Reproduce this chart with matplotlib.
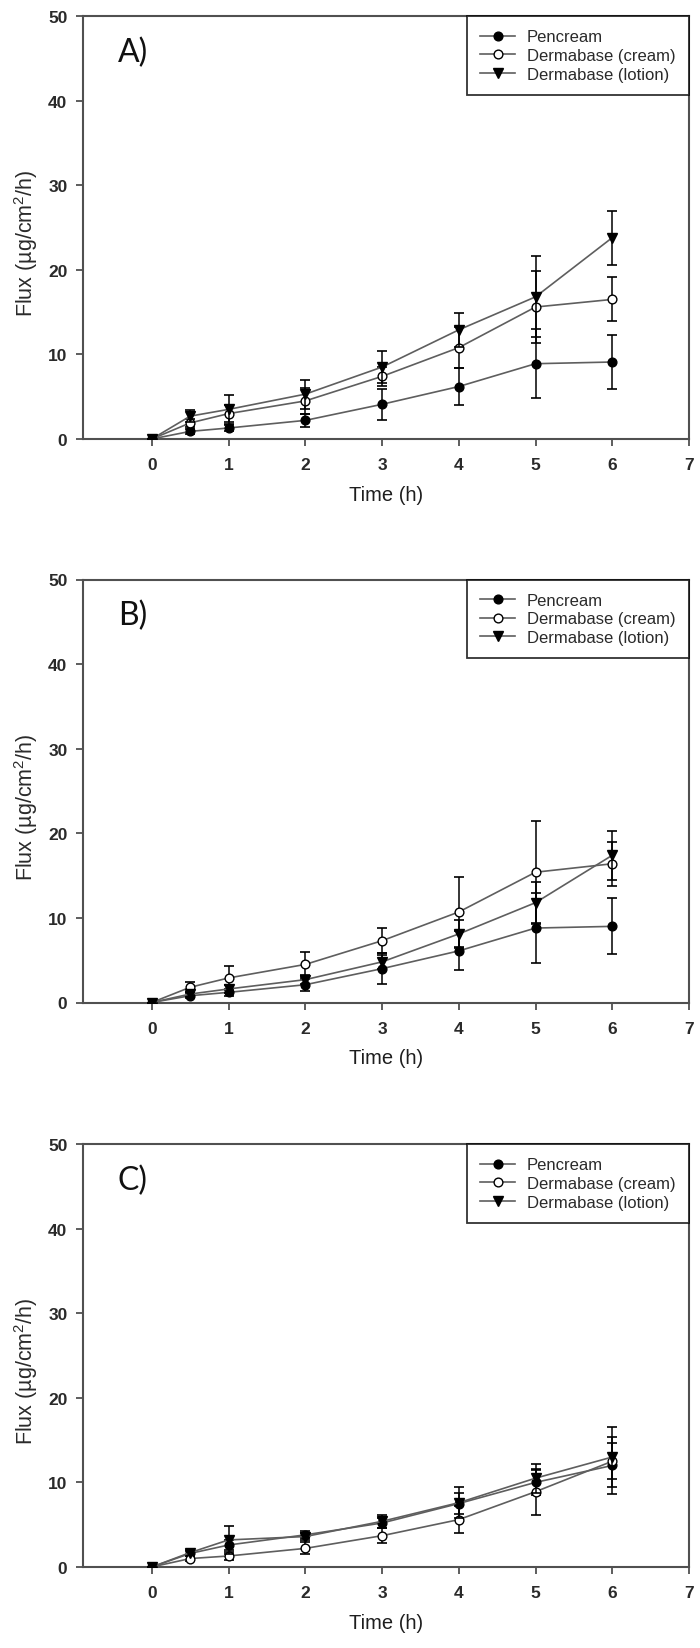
import matplotlib
matplotlib.use("Agg")
import matplotlib.pyplot as plt

# ---------------- data ----------------
time_h = [0, 0.5, 1, 2, 3, 4, 5, 6]
series_names = ["Pencream", "Dermabase (cream)", "Dermabase (lotion)"]
panel_labels = ["A)", "B)", "C)"]

pen_A = [0, 0.9, 1.3, 2.2, 4.1, 6.2, 8.9, 9.1]
pen_A_err = [0, 0.3, 0.4, 0.8, 1.8, 2.2, 4.1, 3.2]
cream_A = [0, 1.9, 3.0, 4.5, 7.4, 10.8, 15.6, 16.5]
cream_A_err = [0, 0.5, 1.0, 1.5, 1.1, 2.4, 4.2, 2.6]
lotion_A = [0, 2.7, 3.5, 5.3, 8.5, 12.9, 16.8, 23.8]
lotion_A_err = [0, 0.7, 1.7, 1.7, 1.9, 2.0, 4.8, 3.2]

pen_B = [0, 0.8, 1.2, 2.1, 4.0, 6.1, 8.8, 9.0]
pen_B_err = [0, 0.3, 0.4, 0.7, 1.8, 2.3, 4.1, 3.3]
cream_B = [0, 1.8, 2.9, 4.5, 7.3, 10.7, 15.4, 16.4]
cream_B_err = [0, 0.6, 1.4, 1.5, 1.5, 4.1, 6.1, 2.6]
lotion_B = [0, 1.0, 1.6, 2.7, 4.8, 8.1, 11.8, 17.4]
lotion_B_err = [0, 0.3, 0.5, 0.5, 0.8, 1.6, 2.4, 2.9]

pen_C = [0, 1.6, 2.6, 3.8, 5.2, 7.5, 10.0, 12.0]
pen_C_err = [0, 0.3, 0.6, 0.4, 0.6, 1.2, 1.5, 3.4]
cream_C = [0, 1.0, 1.3, 2.2, 3.7, 5.6, 8.9, 12.5]
cream_C_err = [0, 0.3, 0.5, 0.7, 0.9, 1.6, 2.7, 2.1]
lotion_C = [0, 1.7, 3.2, 3.6, 5.4, 7.6, 10.5, 13.0]
lotion_C_err = [0, 0.3, 1.7, 0.4, 0.8, 1.8, 1.7, 3.5]

x_ticks = [0, 1, 2, 3, 4, 5, 6, 7]
y_ticks = [0, 10, 20, 30, 40, 50]

panels = [
    (pen_A, pen_A_err, cream_A, cream_A_err, lotion_A, lotion_A_err),
    (pen_B, pen_B_err, cream_B, cream_B_err, lotion_B, lotion_B_err),
    (pen_C, pen_C_err, cream_C, cream_C_err, lotion_C, lotion_C_err),
]

# ---------------- style ----------------
plt.rcParams['font.family'] = ['Liberation Sans', 'DejaVu Sans']
plt.rcParams['mathtext.fontset'] = 'custom'
plt.rcParams['mathtext.rm'] = 'Liberation Sans'
plt.rcParams['mathtext.it'] = 'Liberation Sans'

SPINE = '#505050'
LINE = '#5e5e5e'
TXT = '#2a2a2a'

W, H = 700, 1649
fig = plt.figure(figsize=(W / 100, H / 100), dpi=100)

left_px, right_px = 82.7, 689.0
ax_h_px = 423.0
bottoms_px = [440.0, 1003.5, 1568.0]

styles = [
    dict(marker='o', mfc='black', mec='black', ms=6.3),
    dict(marker='o', mfc='white', mec='black', ms=6.3),
    dict(marker='v', mfc='black', mec='black', ms=7.2),
]

for pi, data in enumerate(panels):
    b = bottoms_px[pi]
    ax = fig.add_axes([left_px / W, 1 - b / H, (right_px - left_px) / W, ax_h_px / H])
    handles = []
    for si in range(3):
        y = data[2 * si]
        e = data[2 * si + 1]
        ax.errorbar(time_h, y, yerr=e, fmt='none', ecolor='black',
                    elinewidth=1.1, capsize=3.6, capthick=1.2, zorder=2 + si)
        h, = ax.plot(time_h, y, color=LINE, lw=1.2, mew=1.0,
                     label=series_names[si], zorder=3 + si, **styles[si])
        handles.append(h)

    ax.set_xlim(-0.9, 7)
    ax.set_ylim(0, 50)
    ax.set_xticks(x_ticks)
    ax.set_yticks(y_ticks)
    for s in ax.spines.values():
        s.set_color(SPINE)
        s.set_linewidth(1.5)
    ax.tick_params(axis='both', direction='out', length=5, width=1.3,
                   color=SPINE, labelcolor=TXT)
    ax.tick_params(axis='x', pad=8)
    ax.tick_params(axis='y', pad=6)
    for lab in ax.get_xticklabels() + ax.get_yticklabels():
        lab.set_fontsize(12.5)
        lab.set_fontweight('bold')

    ax.set_xlabel('Time (h)', fontsize=14.5, color='#1e1e1e')
    ax.xaxis.set_label_coords(0.5, -0.108)
    ax.set_ylabel(r'Flux (µg/cm$^{2}$/h)', fontsize=15.5, color=TXT)
    ax.yaxis.set_label_coords(-0.07, 0.465)

    ax.text(0.058, 0.894, panel_labels[pi], transform=ax.transAxes,
            family=['Lato', 'DejaVu Sans'], fontsize=23, color='#111111',
            ha='left', va='baseline')

    leg = ax.legend(handles=handles, loc='upper right', bbox_to_anchor=(1, 1),
                    borderaxespad=0, frameon=True, fancybox=False,
                    edgecolor='black', fontsize=12, borderpad=0.8,
                    labelspacing=0.22, handlelength=2.1, handletextpad=0.7)
    leg.get_frame().set_linewidth(1.3)
    for t in leg.get_texts():
        t.set_color(TXT)

fig.savefig('out.png', dpi=100, facecolor='white')
